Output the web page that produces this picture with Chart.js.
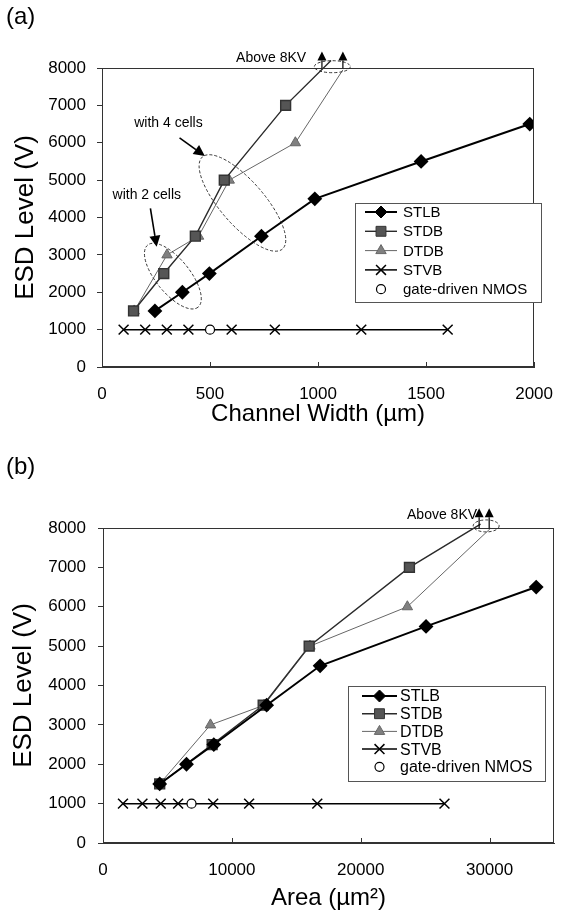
<!DOCTYPE html>
<html>
<head>
<meta charset="utf-8">
<script src="https://cdn.jsdelivr.net/npm/chart.js@4.4.1/dist/chart.umd.min.js"></script>
<style>
html, body { margin: 0; padding: 0; background: #fff; }
#wrap { position: relative; width: 570px; height: 915px; }
canvas { position: absolute; left: 0; }
#ca { top: 0; }
#cb { top: 455px; }
.tag { position: absolute; left: 6px; font: 24px 'Liberation Sans', Arial, sans-serif; }
</style>
</head>
<body>
<div id="wrap">
  <canvas id="ca" width="570" height="455"></canvas>
  <canvas id="cb" width="570" height="460"></canvas>
  <div class="tag" style="top:2px">(a)</div>
  <div class="tag" style="top:452px">(b)</div>
</div>
<script>
var FONT = "'Liberation Sans', Arial, sans-serif";

// shared
var yTicks = [0, 1000, 2000, 3000, 4000, 5000, 6000, 7000, 8000];
var levels = [1500, 2000, 2500, 3500, 4500, 5500, 6500];
var stvbLevel = [1000, 1000, 1000, 1000, 1000, 1000, 1000, 1000];

// (a) channel width (um)
var widthTicks = [0, 500, 1000, 1500, 2000];
var stlbWidth = [245, 372, 497, 738, 985, 1477, 1980];
var stdbWidth = [146, 286, 432, 566, 850, 1060];
var stdbLevel = [1500, 2500, 3500, 5000, 7000, 8200];
var dtdbWidth = [149, 301, 447, 589, 895, 1115];
var dtdbLevel = [1500, 3000, 3500, 5000, 6000, 7950];
var stvbWidth = [100, 200, 300, 400, 600, 800, 1200, 1600];
var nmosWidth = [500];
var nmosLevel = [1000];

// (b) area (um^2)
var areaTicks = [0, 10000, 20000, 30000];
var stlbArea = [4400, 6480, 8600, 12700, 16850, 25070, 33620];
var stdbArea = [4400, 8470, 12430, 16000, 23780, 29300];
var stdbLevelB = [1500, 2500, 3500, 5000, 7000, 8100];
var dtdbArea = [4400, 8340, 12500, 16060, 23620, 30100];
var dtdbLevelB = [1500, 3000, 3500, 5000, 6000, 8000];
var stvbArea = [1550, 3060, 4480, 5830, 8550, 11340, 16630, 26500];
var nmosArea = [6870];

// annotations (data units)
var notesA = [
  { text: 'with 4 cells', x: 149, y: 6533, align: 'left' },
  { text: 'with 2 cells', x: 49, y: 4598, align: 'left' },
  { text: 'Above 8KV', x: 945, y: 8276, align: 'right' }
];
var pointersA = [
  { x1: 359, y1: 6128, x2: 476, y2: 5646 },
  { x1: 224, y1: 4247, x2: 253, y2: 3217 }
];
var ringsA = [
  { x: 650, y: 4389, rx: 61, ry: 22, rot: 49 },
  { x: 328, y: 2432, rx: 40, ry: 17, rot: 51 },
  { x: 1066, y: 8035, rx: 18, ry: 6, rot: 0 }
];
var upsA = [{ x: 1018, y1: 7990, y2: 8440 }, { x: 1115, y1: 7990, y2: 8440 }];

var notesB = [{ text: 'Above 8KV', x: 29030, y: 8332, align: 'right' }];
var pointersB = [];
var ringsB = [{ x: 29735, y: 8053, rx: 13, ry: 6, rot: 0 }];
var upsB = [{ x: 29190, y1: 7990, y2: 8500 }, { x: 29970, y1: 7990, y2: 8500 }];

Chart.defaults.font.family = FONT;
Chart.defaults.color = '#000';

function pts(xs, ys) {
  return xs.map(function (x, i) { return { x: x, y: ys[i] }; });
}
// no marker on the last point (the line runs on to the arrow)
function radii(n, r) {
  var a = [];
  for (var i = 0; i < n; i++) a.push(i < n - 1 ? r : 0);
  return a;
}

function makeSets(stlbX, stdbX, stdbY, dtdbX, dtdbY, stvbX, nmosX) {
  return [
    { label: 'STLB', data: pts(stlbX, levels), showLine: true, borderColor: '#000', borderWidth: 2,
      pointStyle: 'rectRot', pointRadius: 6, markR: 6, pointBackgroundColor: '#000', pointBorderColor: '#000' },
    { label: 'STDB', data: pts(stdbX, stdbY), showLine: true, borderColor: '#2a2a2a', borderWidth: 1.4, clip: false,
      pointStyle: 'rect', pointRadius: radii(stdbX.length, 7), markR: 7, pointBackgroundColor: '#555', pointBorderColor: '#333' },
    { label: 'DTDB', data: pts(dtdbX, dtdbY), showLine: true, borderColor: '#666', borderWidth: 1, clip: false,
      pointStyle: 'triangle', pointRadius: radii(dtdbX.length, 6), markR: 6, pointBackgroundColor: '#808080', pointBorderColor: '#666' },
    { label: 'STVB', data: pts(stvbX, stvbLevel), showLine: true, borderColor: '#000', borderWidth: 1.5,
      pointStyle: 'crossRot', pointRadius: 7, markR: 7, pointBorderColor: '#000', pointBorderWidth: 1.5 },
    { label: 'gate-driven NMOS', data: pts(nmosX, nmosLevel), showLine: false, order: -1,
      pointStyle: 'circle', pointRadius: 4.5, markR: 4.5, pointBackgroundColor: '#fff', pointBorderColor: '#000', pointBorderWidth: 1.2 }
  ];
}

function arrow(ctx, x1, y1, x2, y2, lw, hl, hw) {
  var ang = Math.atan2(y2 - y1, x2 - x1);
  var bx = x2 - Math.cos(ang) * hl, by = y2 - Math.sin(ang) * hl;
  ctx.lineWidth = lw;
  ctx.beginPath(); ctx.moveTo(x1, y1); ctx.lineTo(bx, by); ctx.stroke();
  ctx.beginPath();
  ctx.moveTo(x2, y2);
  ctx.lineTo(bx + Math.sin(ang) * hw, by - Math.cos(ang) * hw);
  ctx.lineTo(bx - Math.sin(ang) * hw, by + Math.cos(ang) * hw);
  ctx.closePath(); ctx.fill();
}

var decor = {
  id: 'decor',
  afterDatasetsDraw: function (chart, args, o) {
    var ctx = chart.ctx, a = chart.chartArea, xs = chart.scales.x, ys = chart.scales.y;
    function px(v) { return xs.getPixelForValue(v); }
    function py(v) { return ys.getPixelForValue(v); }
    ctx.save();
    ctx.strokeStyle = '#333'; ctx.fillStyle = '#000'; ctx.lineWidth = 1;
    ctx.strokeRect(Math.round(a.left) + 0.5, Math.round(a.top) + 0.5,
      Math.round(a.right - a.left) - 1, Math.round(a.bottom - a.top) - 1);
    o.xTicks.forEach(function (v) {
      var x = Math.round(px(v)) + 0.5;
      ctx.beginPath(); ctx.moveTo(x, a.bottom); ctx.lineTo(x, a.bottom - 5); ctx.stroke();
    });

    ctx.strokeStyle = '#222'; ctx.lineWidth = 0.9; ctx.setLineDash([3, 2]);
    o.rings.forEach(function (r) {
      ctx.beginPath();
      ctx.ellipse(px(r.x), py(r.y), r.rx, r.ry, r.rot * Math.PI / 180, 0, 2 * Math.PI);
      ctx.stroke();
    });
    ctx.setLineDash([]);
    ctx.strokeStyle = '#000';
    o.pointers.forEach(function (p) { arrow(ctx, px(p.x1), py(p.y1), px(p.x2), py(p.y2), 1.6, 11, 5.5); });
    o.ups.forEach(function (u) { arrow(ctx, px(u.x), py(u.y1), px(u.x), py(u.y2), 1.2, 9, 4.5); });

    ctx.font = '14px ' + FONT; ctx.textBaseline = 'middle';
    o.notes.forEach(function (n) { ctx.textAlign = n.align; ctx.fillText(n.text, px(n.x), py(n.y)); });

    // legend box
    var L = o.legend;
    ctx.fillStyle = '#fff'; ctx.fillRect(L.x, L.y, L.w, L.h);
    ctx.strokeStyle = '#555'; ctx.lineWidth = 1;
    ctx.strokeRect(L.x + 0.5, L.y + 0.5, L.w, L.h);
    ctx.font = L.font + 'px ' + FONT; ctx.textAlign = 'left'; ctx.textBaseline = 'middle';
    chart.data.datasets.forEach(function (ds, i) {
      var y = L.first + i * L.step, x0 = L.x + L.l0, x1 = L.x + L.l1, xm = (x0 + x1) / 2;
      if (ds.showLine !== false) {
        ctx.strokeStyle = ds.borderColor; ctx.lineWidth = ds.borderWidth;
        ctx.beginPath(); ctx.moveTo(x0, y); ctx.lineTo(x1, y); ctx.stroke();
      }
      ctx.fillStyle = ds.pointBackgroundColor || '#000';
      ctx.strokeStyle = ds.pointBorderColor || '#000';
      ctx.lineWidth = ds.pointBorderWidth || 1;
      Chart.helpers.drawPoint(ctx, { pointStyle: ds.pointStyle, radius: ds.markR, rotation: 0, borderWidth: ctx.lineWidth }, xm, y);
      ctx.fillStyle = '#000';
      ctx.fillText(ds.label, L.x + L.tx, y + 1);
    });
    ctx.restore();
  }
};

function makeOptions(p) {
  return {
    responsive: false,
    animation: false,
    events: [],
    layout: { padding: { top: p.top, right: p.right, left: 0, bottom: 0 } },
    plugins: { legend: { display: false }, tooltip: { enabled: false }, decor: p.decor },
    scales: {
      x: {
        type: 'linear', min: 0, max: p.xMax,
        afterBuildTicks: function (s) { s.ticks = p.xTicks.map(function (v) { return { value: v }; }); },
        afterFit: function (s) { s.height = p.xh; },
        grid: { drawOnChartArea: false, drawTicks: false },
        border: { color: '#333' },
        ticks: { padding: p.xPad, maxRotation: 0, font: { size: 17 }, callback: function (v) { return String(v); } },
        title: { display: true, text: p.xTitle, font: { size: 24 }, padding: { top: 0, bottom: p.xTitlePad } }
      },
      y: {
        type: 'linear', min: 0, max: 8000,
        afterBuildTicks: function (s) { s.ticks = yTicks.map(function (v) { return { value: v }; }); },
        afterFit: function (s) { s.width = p.yw; },
        grid: { drawOnChartArea: false, tickLength: 5, color: '#333' },
        border: { color: '#333' },
        ticks: { padding: p.yPad, font: { size: 17 }, callback: function (v) { return String(v); } },
        title: { display: true, text: 'ESD Level (V)', font: { size: 26 }, padding: { top: p.yTitlePad, bottom: 0 } }
      }
    }
  };
}

new Chart(document.getElementById('ca').getContext('2d'), {
  type: 'scatter',
  data: { datasets: makeSets(stlbWidth, stdbWidth, stdbLevel, dtdbWidth, dtdbLevel, stvbWidth, nmosWidth) },
  plugins: [decor],
  options: makeOptions({
    top: 68, right: 21, yw: 102, xh: 88, xMax: 2000, xTicks: widthTicks,
    xPad: 17, yPad: 11, xTitle: 'Channel Width (\u00b5m)', xTitlePad: 26, yTitlePad: 10,
    decor: { xTicks: widthTicks, notes: notesA, pointers: pointersA, rings: ringsA, ups: upsA,
      legend: { x: 355, y: 203, w: 186, h: 99, first: 212, step: 19.3, font: 15, l0: 10, l1: 42, tx: 48 } }
  })
});

new Chart(document.getElementById('cb').getContext('2d'), {
  type: 'scatter',
  data: { datasets: makeSets(stlbArea, stdbArea, stdbLevelB, dtdbArea, dtdbLevelB, stvbArea, nmosArea) },
  plugins: [decor],
  options: makeOptions({
    top: 73, right: 16, yw: 103, xh: 72, xMax: 35000, xTicks: areaTicks,
    xPad: 17, yPad: 12, xTitle: 'Area (\u00b5m\u00b2)', xTitlePad: 2, yTitlePad: 8,
    decor: { xTicks: areaTicks, notes: notesB, pointers: pointersB, rings: ringsB, ups: upsB,
      legend: { x: 348, y: 231, w: 197, h: 95, first: 241, step: 17.7, font: 16, l0: 14, l1: 49, tx: 52 } }
  })
});
</script>
</body>
</html>
